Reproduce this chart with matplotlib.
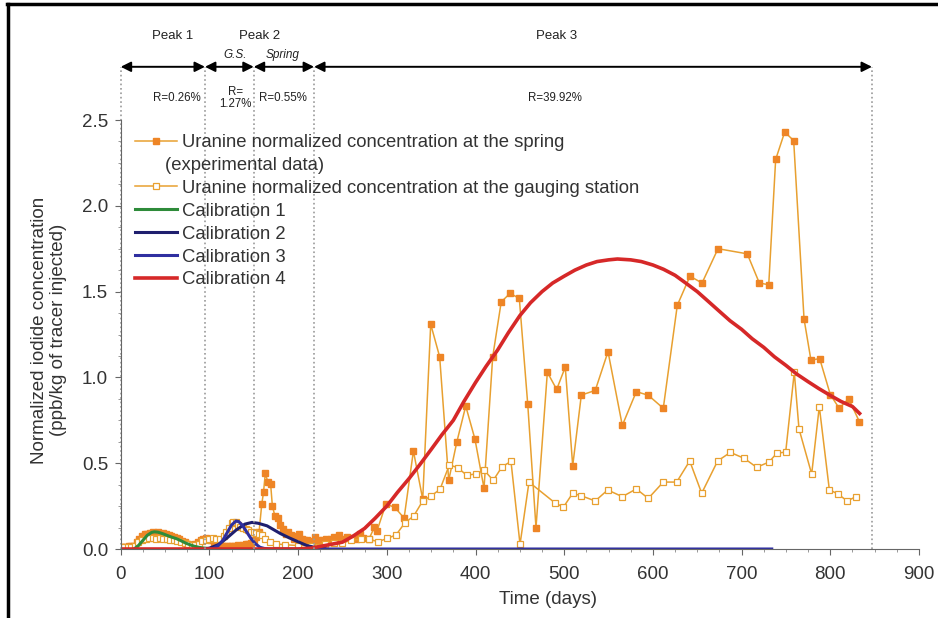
import matplotlib
matplotlib.use("Agg")
import matplotlib.pyplot as plt
from matplotlib.lines import Line2D
from matplotlib.ticker import MultipleLocator, FixedLocator

plt.rcParams['font.family'] = ['Liberation Sans', 'DejaVu Sans']

# ---- data ----
# spring, experimental (filled squares)
spring_days = [0, 3, 6, 9, 12, 15, 18, 21, 24, 27, 30, 33, 36, 39, 42, 45, 48, 51, 54, 57,
               60, 63, 66, 69, 72, 75, 78, 81, 84, 87, 90, 93, 96, 99, 102, 105, 108, 111,
               114, 117, 120, 123, 126, 129, 132, 135, 138, 141, 144, 147, 150, 153, 156,
               159, 161, 163, 166, 169, 171, 174, 177, 180, 183, 186, 189, 192, 195, 198,
               201, 204, 207, 210, 213, 216, 219, 222, 225, 228, 231, 234, 237, 240, 243,
               246, 250, 255, 260, 265, 270, 273, 280, 286, 289,
               299, 309, 319.5, 330, 340.5, 349.5, 359.6, 369.8, 379, 389, 399.4, 409.6,
               419.4, 429, 439, 449.4, 458.9, 468.2, 481, 491.5, 501.2, 509.6, 519.3, 535,
               549.4, 565.5, 581.3, 594.8, 611.7, 627.5, 641.8, 655.4, 673.4, 706.4, 720,
               730.6, 738.4, 748.6, 758.7, 770.4, 778.2, 788, 800, 810, 820.7, 832.7]
spring_conc = [0.01, 0.01, 0.012, 0.015, 0.015, 0.02, 0.04, 0.06, 0.075, 0.085, 0.09, 0.095,
               0.1, 0.095, 0.098, 0.09, 0.092, 0.085, 0.08, 0.077, 0.07, 0.065, 0.056, 0.046,
               0.04, 0.032, 0.025, 0.022, 0.03, 0.04, 0.05, 0.06, 0.065, 0.06, 0.05, 0.035,
               0.02, 0.015, 0.015, 0.018, 0.02, 0.02, 0.018, 0.02, 0.022, 0.02, 0.025, 0.03,
               0.03, 0.035, 0.05, 0.07, 0.1, 0.26, 0.33, 0.44, 0.39, 0.38, 0.25, 0.19, 0.18,
               0.14, 0.115, 0.09, 0.1, 0.08, 0.06, 0.075, 0.09, 0.06, 0.05, 0.055, 0.045, 0.04,
               0.07, 0.05, 0.04, 0.05, 0.06, 0.055, 0.06, 0.07, 0.05, 0.08, 0.06, 0.07, 0.065,
               0.06, 0.087, 0.062, 0.06, 0.126, 0.107,
               0.262, 0.243, 0.18, 0.571, 0.29, 1.31, 1.12, 0.40, 0.625, 0.833, 0.64, 0.354,
               1.12, 1.44, 1.49, 1.46, 0.843, 0.125, 1.03, 0.93, 1.06, 0.485, 0.897, 0.924,
               1.15, 0.72, 0.917, 0.896, 0.82, 1.42, 1.59, 1.55, 1.75, 1.72, 1.55,
               1.54, 2.27, 2.43, 2.38, 1.34, 1.10, 1.11, 0.90, 0.82, 0.876, 0.743]

# gauging station (open squares)
gauge_days = [0, 4, 8, 12, 16, 20, 24, 28, 32, 36, 40, 44, 48, 52, 56, 60, 64, 68, 72, 76,
              80, 84, 88, 92, 96, 100, 104, 108, 112, 116, 119, 122, 125, 127, 130, 132, 135,
              138, 141, 144, 147, 150, 153, 156, 159, 163, 168, 175, 185, 200, 215, 230, 240,
              249, 260, 270.5, 280, 290.4, 300.6, 310.4, 320.5, 330.3, 340.5, 350.2, 360,
              370.5, 380, 390, 400, 409.6, 420, 430, 440, 450.2, 460.3, 489.3, 499, 509.6,
              519.3, 535, 549, 565.5, 581.3, 594.8, 611.7, 626.8, 641.5, 655, 673, 687.3, 703,
              717, 731, 739.6, 749.7, 759.4, 764.7, 779, 787.6, 798.9, 809, 819, 829]
gauge_conc = [0.01, 0.01, 0.01, 0.012, 0.02, 0.04, 0.055, 0.06, 0.065, 0.062, 0.06, 0.065,
              0.06, 0.058, 0.055, 0.05, 0.045, 0.04, 0.035, 0.03, 0.025, 0.022, 0.03, 0.045,
              0.055, 0.06, 0.065, 0.06, 0.06, 0.075, 0.1, 0.12, 0.15, 0.16, 0.155, 0.14, 0.13,
              0.12, 0.115, 0.11, 0.1, 0.1, 0.095, 0.09, 0.08, 0.06, 0.04, 0.03, 0.025, 0.02,
              0.02, 0.03, 0.035,
              0.033, 0.052, 0.056, 0.056, 0.043, 0.062, 0.082, 0.153, 0.192, 0.28, 0.31, 0.348,
              0.49, 0.474, 0.43, 0.437, 0.46, 0.40, 0.48, 0.51, 0.027, 0.39, 0.27, 0.243, 0.325,
              0.31, 0.28, 0.344, 0.305, 0.35, 0.295, 0.39, 0.39, 0.513, 0.325, 0.513, 0.563,
              0.528, 0.476, 0.507, 0.558, 0.565, 1.03, 0.70, 0.437, 0.83, 0.346, 0.319, 0.28,
              0.305]

cal1_days = [15, 20, 25, 30, 35, 38, 42, 47, 52, 57, 63, 68, 73, 78, 83, 88, 93, 100]
cal1_conc = [0, 0.02, 0.05, 0.08, 0.097, 0.1, 0.098, 0.09, 0.08, 0.07, 0.06, 0.048, 0.035,
             0.025, 0.016, 0.01, 0.006, 0.003]

cal2_days = [95, 100, 110, 120, 130, 140, 148, 155, 165, 180, 190, 200, 210, 220, 230]
cal2_conc = [0, 0.005, 0.025, 0.065, 0.11, 0.145, 0.155, 0.15, 0.135, 0.09, 0.065, 0.042,
             0.02, 0.008, 0.002]

cal3_days = [100, 105, 110, 115, 120, 125, 130, 133, 137, 142, 147, 152, 157, 162, 170, 734]
cal3_conc = [0, 0.005, 0.02, 0.05, 0.095, 0.14, 0.163, 0.16, 0.14, 0.1, 0.06, 0.03, 0.01,
             0.003, 0, 0]

cal4_days = [0, 200, 215, 230, 250, 262, 275, 287, 300, 312, 325, 337, 350, 362, 375, 387,
             400, 412, 425, 437, 450, 462, 475, 487, 500, 512, 525, 537, 550, 560, 575, 587,
             600, 612, 625, 637, 650, 662, 675, 687, 700, 712, 725, 737, 750, 762, 775, 787,
             800, 812, 825, 833]
cal4_conc = [0, 0, 0.005, 0.02, 0.04, 0.075, 0.12, 0.18, 0.25, 0.33, 0.41, 0.49, 0.58, 0.665,
             0.75, 0.86, 0.97, 1.065, 1.16, 1.26, 1.36, 1.435, 1.50, 1.55, 1.59, 1.625,
             1.655, 1.675, 1.685, 1.69, 1.685, 1.675, 1.655, 1.63, 1.595, 1.55, 1.50, 1.445,
             1.385, 1.33, 1.28, 1.225, 1.175, 1.12, 1.07, 1.02, 0.975, 0.935, 0.895, 0.86,
             0.83, 0.79]

bounds = [0, 95, 150, 218, 847]
peak_labels = ["Peak 1", "Peak 2", "Peak 3"]
peak_x = [58, 157, 491]
sub_labels = ["G.S.", "Spring"]
sub_x = [129, 183]
r_labels = ["R=0.26%", "R=\n1.27%", "R=0.55%", "R=39.92%"]
r_x = [63, 129, 183, 490]

# ---- figure ----
fig = plt.figure(figsize=(9.38, 6.18), dpi=100)
ax = fig.add_axes([120.7 / 938, 69 / 618, 798.3 / 938, 514.8 / 618])

line_c = '#e8a030'
mark_c = '#ee8526'

ax.plot(spring_days, spring_conc, color=line_c, lw=1.1, marker='s', ms=4.2,
        mfc=mark_c, mec=mark_c, label="Uranine normalized concentration at the spring")
ax.plot([], [], ls='none', label="(experimental data)")
ax.plot(gauge_days, gauge_conc, color=line_c, lw=1.1, marker='s', ms=3.8,
        mfc='white', mec=line_c, mew=0.9,
        label="Uranine normalized concentration at the gauging station")
ax.plot(cal1_days, cal1_conc, color='#2e8b3a', lw=2.2, label="Calibration 1")
ax.plot(cal2_days, cal2_conc, color='#1f1f6e', lw=2.2, label="Calibration 2")
ax.plot(cal3_days, cal3_conc, color='#2f2fa0', lw=2.2, label="Calibration 3")
ax.plot(cal4_days, cal4_conc, color='#d62828', lw=2.6, label="Calibration 4")

ax.set_xlim(0, 900)
ax.set_ylim(0, 3.0)
ax.set_yticks([0, 0.5, 1.0, 1.5, 2.0, 2.5])
ax.set_yticklabels(["0.0", "0.5", "1.0", "1.5", "2.0", "2.5"])
ax.xaxis.set_major_locator(MultipleLocator(100))
ax.xaxis.set_minor_locator(MultipleLocator(25))
# minor ticks only up to 2.5, where the spine stops
ax.yaxis.set_minor_locator(FixedLocator([v * 0.125 for v in range(21)]))
ax.spines['top'].set_visible(False)
ax.spines['right'].set_visible(False)
ax.spines['left'].set_bounds(0, 2.5)
for s in ['left', 'bottom']:
    ax.spines[s].set_color('#666666')
ax.tick_params(which='major', length=4, color='#666666', labelsize=13.5,
               labelcolor='#333333')
ax.tick_params(axis='x', which='major', pad=8)
ax.tick_params(axis='y', which='major', pad=5)
ax.tick_params(which='minor', length=2.5, color='#888888')

ax.set_xlabel("Time (days)", fontsize=13.5, color='#333333')
ax.xaxis.set_label_coords(0.535, -0.082)
fig.text(49 / 938, 1 - 330 / 618,
         "Normalized iodide concentration\n(ppb/kg of tracer injected)",
         rotation=90, ha='center', va='center', fontsize=13.5, color='#333333',
         multialignment='center')

# peak separators and arrows
ax.vlines(bounds, 0, 2.81, colors='#9a9a9a', linestyles=':', lw=1.2, clip_on=False)
for a, b in zip(bounds[:-1], bounds[1:]):
    ax.annotate('', xy=(b, 2.81), xytext=(a, 2.81), annotation_clip=False,
                arrowprops=dict(arrowstyle='<|-|>', color='black', lw=1.4,
                                mutation_scale=15, shrinkA=0, shrinkB=0))
for lab, x in zip(peak_labels, peak_x):
    ax.text(x, 2.99, lab, ha='center', va='center', fontsize=9.5, color='#222222',
            clip_on=False)
for lab, x in zip(sub_labels, sub_x):
    ax.text(x, 2.88, lab, ha='center', va='center', fontsize=8.5, style='italic',
            color='#222222', clip_on=False)
for lab, x in zip(r_labels, r_x):
    ax.text(x, 2.63, lab, ha='center', va='center', fontsize=8.3, color='#222222',
            linespacing=1.0, clip_on=False)

leg = ax.legend(loc='upper left', bbox_to_anchor=(135 / 938, 1 - 134 / 618),
                bbox_transform=fig.transFigure, frameon=False, fontsize=13.3,
                handlelength=2.25, handletextpad=0.3, labelspacing=0.32,
                borderpad=0, borderaxespad=0)
for t in leg.get_texts():
    t.set_color('#333333')
# second line of the first entry sits under the handle, so draw it apart
leg.get_texts()[1].set_alpha(0)
fig.text(165 / 938, 1 - 165 / 618, "(experimental data)", ha='left', va='center',
         fontsize=13.3, color='#333333')

# dark border of the original figure
fig.add_artist(Line2D([7 / 938, 1], [1 - 4 / 618, 1 - 4 / 618], color='black', lw=2.5,
                      transform=fig.transFigure))
fig.add_artist(Line2D([7.5 / 938, 7.5 / 938], [0, 1 - 4 / 618], color='black', lw=2.5,
                      transform=fig.transFigure))

plt.savefig("out.png", dpi=100)
